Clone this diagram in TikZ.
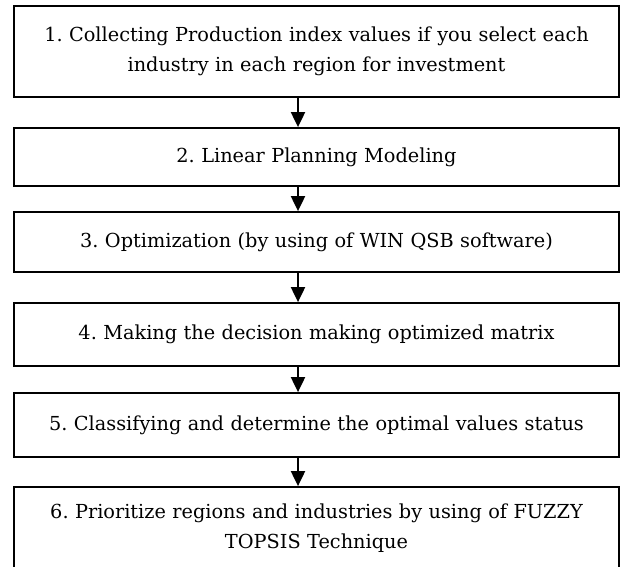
\documentclass[tikz,border=0pt]{standalone}
\usepackage{fontspec}
\setmainfont{DejaVu Serif}
\usetikzlibrary{arrows.meta}
\begin{document}
\frenchspacing
\begin{tikzpicture}[x=1pt,y=-1pt,
  stepbox/.style={draw=black, line width=1.8pt, minimum width=605pt, inner sep=0pt,
    align=center, text width=600pt, font=\fontsize{19.3}{30}\selectfont},
  arr/.style={line width=2pt, -{Triangle[length=15pt,width=14pt]}}]
\path[use as bounding box] (0,0) rectangle (620,566);
\fill[white] (0,0) rectangle (620,566);
\clip (0,0) rectangle (620,566);
\coordinate (ax) at (298,0);
\node[stepbox, minimum height=91pt] (b1) at (316.5,51.5)
  {1. Collecting Production index values if you select each\\industry in each region for investment};
\node[stepbox, minimum height=58pt] (b2) at (316.5,157) {2. Linear Planning Modeling};
\node[stepbox, minimum height=60pt] (b3) at (316.5,242) {3. Optimization (by using of WIN QSB software)};
\node[stepbox, minimum height=63pt] (b4) at (316.5,334.5) {4. Making the decision making optimized matrix};
\node[stepbox, minimum height=64pt] (b5) at (316.5,425) {5. Classifying and determine the optimal values status};
\node[stepbox, minimum height=83pt] (b6) at (316.5,528.5)
  {6. Prioritize regions and industries by using of FUZZY\\TOPSIS Technique};
\draw[arr] (b1.south -| ax) -- (b2.north -| ax);
\draw[arr] (b2.south -| ax) -- (b3.north -| ax);
\draw[arr] (b3.south -| ax) -- (b4.north -| ax);
\draw[arr] (b4.south -| ax) -- (b5.north -| ax);
\draw[arr] (b5.south -| ax) -- (b6.north -| ax);
\end{tikzpicture}
\end{document}
